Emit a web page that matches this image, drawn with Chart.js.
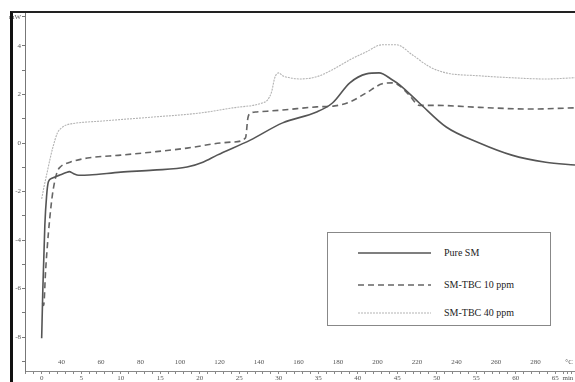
<!DOCTYPE html>
<html>
<head>
<meta charset="utf-8">
<script src="https://cdn.jsdelivr.net/npm/chart.js@4.4.1/dist/chart.umd.min.js"></script>
<style>
  html, body { margin: 0; padding: 0; background: #fff; }
  #wrap { position: relative; width: 575px; height: 382px; }
  #frame { position: absolute; left: 10px; top: 11px; right: 0; bottom: 0;
           border-left: 3px solid #111; border-top: 2px solid #222; pointer-events: none; }
  #legend { position: absolute; left: 327px; top: 232px; width: 222px; height: 92px;
            border: 1px solid #888; background: #fff;
            font-family: "Liberation Serif", serif; font-size: 10px; color: #222; }
  #legend .row { position: absolute; left: 0; height: 14px; }
  #legend svg { position: absolute; left: 30px; top: 0; }
  #legend span { position: absolute; left: 116px; top: 0; line-height: 14px; white-space: nowrap; }
</style>
</head>
<body>
<div id="wrap">
  <canvas id="dscChart" width="575" height="382"></canvas>
  <div id="frame"></div>
  <div id="legend"></div>
</div>
<script>
// time (min) and heat flow (mW)
const pureTime = [0, 0.15, 0.4, 0.62, 0.85, 1.3, 2.3, 3.1, 3.5, 4.0, 4.7, 6.0, 10.0, 14.1, 18.4, 20.4, 22.2, 26.4, 30.5, 34.8, 36.8, 39.0, 41.1, 42.7, 44.4, 45.3, 47.8, 51.2, 55.4, 59.5, 63.8, 67.5];
const pureVal  = [-8.05, -6.0, -3.4, -2.2, -1.6, -1.45, -1.32, -1.22, -1.18, -1.26, -1.33, -1.32, -1.2, -1.12, -0.99, -0.79, -0.5, 0.12, 0.83, 1.28, 1.65, 2.48, 2.85, 2.89, 2.6, 2.4, 1.65, 0.66, 0.0, -0.5, -0.79, -0.91];

const tbc10Time = [0.1, 0.25, 0.5, 0.85, 1.2, 1.45, 1.95, 2.35, 3.6, 5.8, 10.0, 14.1, 18.4, 22.6, 24.2, 25.8, 26.1, 26.5, 27.2, 30.5, 34.8, 37.1, 39.0, 41.1, 43.1, 44.4, 45.3, 46.5, 47.8, 49.9, 55.4, 61.7, 67.5];
const tbc10Val  = [-6.6, -6.7, -5.25, -3.72, -2.56, -1.94, -1.2, -0.99, -0.79, -0.62, -0.5, -0.37, -0.21, 0.0, 0.04, 0.21, 1.03, 1.24, 1.28, 1.36, 1.49, 1.53, 1.69, 2.07, 2.44, 2.48, 2.36, 1.98, 1.55, 1.55, 1.47, 1.4, 1.45];

const tbc40Time = [0, 0.3, 0.7, 1.1, 1.4, 2.0, 2.5, 3.1, 3.7, 7.8, 14.1, 20.1, 24.2, 27.9, 28.6, 29.1, 29.5, 30.0, 30.5, 31.4, 32.7, 34.8, 36.8, 39.0, 41.1, 43.1, 44.9, 46.9, 49.1, 51.2, 55.4, 59.5, 63.8, 67.5];
const tbc40Val  = [-2.3, -1.8, -1.2, -0.6, -0.2, 0.42, 0.62, 0.74, 0.79, 0.91, 1.07, 1.24, 1.45, 1.65, 1.78, 2.11, 2.69, 2.89, 2.77, 2.69, 2.64, 2.73, 3.02, 3.43, 3.76, 4.05, 4.05, 3.64, 3.14, 2.89, 2.77, 2.69, 2.64, 2.69];

const seriesNames = ['Pure SM', 'SM-TBC 10 ppm', 'SM-TBC 40 ppm'];

// tick labels
const yTicks = [-9, -8, -7, -6, -5, -4, -3, -2, -1, 0, 1, 2, 3, 4, 5.2];
const timeTicks = [];
for (let m = -2; m <= 67; m++) timeTicks.push(m);
timeTicks.push(66.6);
const tempTicks = [40, 60, 80, 100, 120, 140, 160, 180, 200, 220, 240, 260, 280, 297];

const tMin = -2.11, tMax = 67.5;
const toTemp = t => 30 + 4 * t;
const pts = (xs, ys) => xs.map((x, i) => ({ x: x, y: ys[i] }));
const smallFont = { family: 'Liberation Serif', size: 7 };

const chart = new Chart(document.getElementById('dscChart'), {
  type: 'line',
  data: {
    datasets: [
      {
        label: seriesNames[0],
        data: pts(pureTime, pureVal),
        borderColor: '#555555',
        borderWidth: 1.6,
        pointRadius: 0,
        cubicInterpolationMode: 'monotone'
      },
      {
        label: seriesNames[1],
        data: pts(tbc10Time, tbc10Val),
        borderColor: '#666666',
        borderWidth: 1.6,
        borderDash: [6, 4],
        pointRadius: 0,
        cubicInterpolationMode: 'monotone'
      },
      {
        label: seriesNames[2],
        data: pts(tbc40Time, tbc40Val),
        borderColor: '#b4b4b4',
        borderWidth: 1.1,
        borderDash: [2, 1],
        pointRadius: 0,
        cubicInterpolationMode: 'monotone'
      }
    ]
  },
  options: {
    responsive: false,
    animation: false,
    layout: { padding: { top: 13, left: 0, right: 0, bottom: 0 } },
    plugins: { legend: { display: false }, tooltip: { enabled: false } },
    scales: {
      x: {
        type: 'linear',
        position: 'bottom',
        min: tMin, max: tMax,
        afterFit: s => { s.height = 11; },
        afterBuildTicks: s => { s.ticks = timeTicks.map(v => ({ value: v })); },
        ticks: {
          autoSkip: false, maxRotation: 0, padding: 0,
          font: smallFont, color: '#555',
          callback: v => v === 66.6 ? 'min' : (v >= 0 && v <= 65 && v % 5 === 0 ? String(v) : '')
        },
        grid: { drawOnChartArea: false, tickLength: 3, color: '#888' },
        border: { color: '#888' }
      },
      x2: {
        type: 'linear',
        axis: 'x',
        position: { y: -8.83 },
        min: toTemp(tMin), max: toTemp(tMax),
        afterBuildTicks: s => { s.ticks = tempTicks.map(v => ({ value: v })); },
        ticks: {
          autoSkip: false, maxRotation: 0, padding: 1,
          font: smallFont, color: '#555',
          callback: v => v === 297 ? '°C' : String(v)
        },
        grid: { display: false, drawTicks: false },
        border: { display: false }
      },
      y: {
        min: -9.4, max: 5.36,
        afterFit: s => { s.width = 25; },
        afterBuildTicks: s => { s.ticks = yTicks.map(v => ({ value: v })); },
        ticks: {
          autoSkip: false, padding: 1,
          font: smallFont, color: '#555',
          callback: v => v === 5.2 ? 'mW' : (v % 2 === 0 ? String(v) : '')
        },
        grid: { drawOnChartArea: false, tickLength: 3, color: '#777' },
        border: { color: '#777' }
      }
    }
  }
});

// legend box built from the chart's datasets
const rowTops = [13, 45, 73];
const legend = document.getElementById('legend');
chart.data.datasets.forEach((ds, i) => {
  const row = document.createElement('div');
  row.className = 'row';
  row.style.top = rowTops[i] + 'px';
  row.style.width = '220px';
  const dash = ds.borderDash ? ds.borderDash.join(',') : 'none';
  row.innerHTML =
    '<svg width="74" height="14"><line x1="0" y1="7" x2="73" y2="7" stroke="' + ds.borderColor +
    '" stroke-width="' + ds.borderWidth + '" stroke-dasharray="' + dash + '"/></svg>' +
    '<span>' + ds.label + '</span>';
  legend.appendChild(row);
});
</script>
</body>
</html>
